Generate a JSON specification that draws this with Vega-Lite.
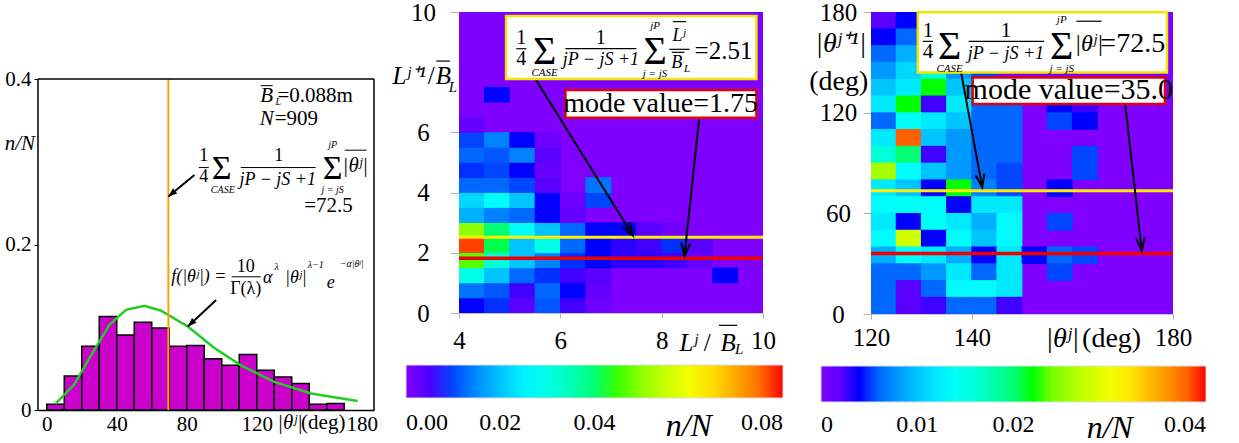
{
  "$schema": "https://vega.github.io/schema/vega-lite/v6.json",
  "padding": {"left": 4, "top": 0, "right": 0, "bottom": 0},
  "background": "white",
  "config": {
    "font": "Liberation Serif",
    "view": {"stroke": null},
    "style": {"guide-label": {"font": "Liberation Serif", "fill": "black"}, "guide-title": {"font": "Liberation Serif"}},
    "axis": {"labelFont": "Liberation Serif", "titleFont": "Liberation Serif", "labelColor": "black", "grid": false, "labelFlush": false, "labelOverlap": false},
    "legend": {"labelFont": "Liberation Serif"},
    "text": {"font": "Liberation Serif", "color": "black", "baseline": "middle", "align": "center"}
  },
  "bounds": "flush",
  "spacing": 0,
  "resolve": {"scale": {"color": "independent"}},
  "hconcat": [
    {
      "width": 336, "height": 398,
      "encoding": {
        "x": {"field": "x", "type": "quantitative", "scale": {"domain": [-5, 187], "nice": false, "zero": false},
              "axis": {"values": [0, 40, 80, 120, 180], "title": null, "ticks": false, "labelPadding": 3, "labelFont": "Liberation Serif", "labelFontSize": 21, "domainColor": "black", "domainWidth": 1.5}},
        "y": {"field": "y", "type": "quantitative", "scale": {"domain": [0, 0.481], "nice": false, "zero": false},
              "axis": {"values": [0, 0.2, 0.4], "format": "~g", "title": null, "tickSize": 4, "tickColor": "black", "labelPadding": 3, "labelFont": "Liberation Serif", "labelFontSize": 21, "domain": false}}
      },
      "layer": [
        {
          "data": {"values": [
            {"x": 0, "x2": 10, "y": 0.007}, {"x": 10, "x2": 20, "y": 0.041}, {"x": 20, "x2": 30, "y": 0.077},
            {"x": 30, "x2": 40, "y": 0.113}, {"x": 40, "x2": 50, "y": 0.0905}, {"x": 50, "x2": 60, "y": 0.106},
            {"x": 60, "x2": 70, "y": 0.099}, {"x": 70, "x2": 80, "y": 0.077}, {"x": 80, "x2": 90, "y": 0.078},
            {"x": 90, "x2": 100, "y": 0.062}, {"x": 100, "x2": 110, "y": 0.054}, {"x": 110, "x2": 120, "y": 0.067},
            {"x": 120, "x2": 130, "y": 0.048}, {"x": 130, "x2": 140, "y": 0.04}, {"x": 140, "x2": 150, "y": 0.032},
            {"x": 150, "x2": 160, "y": 0.007}, {"x": 160, "x2": 170, "y": 0.008}
          ]},
          "mark": {"type": "rect", "fill": "#cc00cc", "stroke": "black", "strokeWidth": 1.5},
          "encoding": {"x2": {"field": "x2"}, "y2": {"datum": 0}}
        },
        {
          "data": {"values": [
            {"x": 4.8, "y": 0.007}, {"x": 15.8, "y": 0.031}, {"x": 25.3, "y": 0.066}, {"x": 35.8, "y": 0.103},
            {"x": 45.3, "y": 0.121}, {"x": 55.8, "y": 0.126}, {"x": 65.3, "y": 0.12}, {"x": 80.6, "y": 0.101},
            {"x": 95.8, "y": 0.075}, {"x": 111, "y": 0.054}, {"x": 130, "y": 0.034}, {"x": 151, "y": 0.02},
            {"x": 177.7, "y": 0.011}
          ]},
          "mark": {"type": "line", "color": "#22cc22", "strokeWidth": 2.5},
          "encoding": {}
        },
        {
          "data": {"values": [{"x": 69.5, "y": 0, "y2": 0.4}]},
          "mark": {"type": "rule", "color": "#ffa200", "strokeWidth": 2},
          "encoding": {"y2": {"field": "y2"}}
        },
        {
          "data": {"values": [
            {"x": -5, "y": 0, "x2": -5, "y2": 0.4},
            {"x": 187, "y": 0, "x2": 187, "y2": 0.4},
            {"x": -5, "y": 0.4, "x2": 187, "y2": 0.4}
          ]},
          "mark": {"type": "rule", "color": "black", "strokeWidth": 1.5},
          "encoding": {"x2": {"field": "x2"}, "y2": {"field": "y2"}}
        },
        {
          "data": {"values": [
            {"x": 84.4, "y": 0.284, "x2": 69.5, "y2": 0.258},
            {"x": 96.8, "y": 0.133, "x2": 80.6, "y2": 0.101}
          ]},
          "mark": {"type": "rule", "color": "black", "strokeWidth": 2},
          "encoding": {"x2": {"field": "x2"}, "y2": {"field": "y2"}}
        },
        {
          "data": {"values": [{"x": 69.5, "y": 0.258}]},
          "mark": {"type": "point", "shape": "M0,0L-0.6,-1.6L0.6,-1.6Z", "filled": true, "color": "black", "opacity": 1, "size": 120, "angle": 50},
          "encoding": {}
        },
        {
          "data": {"values": [{"x": 80.6, "y": 0.101}]},
          "mark": {"type": "point", "shape": "M0,0L-0.6,-1.6L0.6,-1.6Z", "filled": true, "color": "black", "opacity": 1, "size": 120, "angle": 47},
          "encoding": {}
        },
        {
          "data": {"values": [
            {"x": 86.9, "x2": 92.6, "y": 0.293}, {"x": 110.9, "x2": 153.7, "y": 0.293},
            {"x": 105.7, "x2": 122.3, "y": 0.161}, {"x": 170.3, "x2": 182.8, "y": 0.314},
            {"x": 122.3, "x2": 129.1, "y": 0.392}
          ]},
          "mark": {"type": "rule", "color": "black", "strokeWidth": 1},
          "encoding": {"x2": {"field": "x2"}}
        },
        {
          "data": {"values": [
            {"x": 89.7, "y": 0.307, "t": "1"}, {"x": 89.7, "y": 0.281, "t": "4"}, {"x": 132.6, "y": 0.307, "t": "1"},
            {"x": 113.7, "y": 0.173, "t": "10"}, {"x": 113.7, "y": 0.146, "t": "Γ(λ)"}
          ]},
          "mark": {"type": "text", "font": "Liberation Serif", "fontSize": 18},
          "encoding": {"text": {"field": "t"}}
        },
        {
          "data": {"values": [
            {"x": 161, "y": 0.246, "t": "=72.5"}, {"x": 153.4, "y": 0.38, "t": "=0.088m"}, {"x": 142.6, "y": 0.352, "t": "=909"},
            {"x": 158, "y": -0.0162, "t": "(deg)"}
          ]},
          "mark": {"type": "text", "font": "Liberation Serif", "fontSize": 21},
          "encoding": {"text": {"field": "t"}}
        },
        {
          "data": {"values": [
            {"x": 125.7, "y": 0.38, "t": "B"}, {"x": 125.7, "y": 0.352, "t": "N"},
            {"x": 139, "y": -0.0162, "t": "|θʲ|"}, {"x": -15.4, "y": 0.322, "t": "n/N"}, {"x": 176.3, "y": 0.295, "t": "|θʲ|"}
          ]},
          "mark": {"type": "text", "font": "Liberation Serif", "fontSize": 21, "fontStyle": "italic"},
          "encoding": {"text": {"field": "t"}}
        },
        {
          "data": {"values": [
            {"x": 132, "y": 0.278, "t": "jP − jS +1"},
            {"x": 86.9, "y": 0.161, "t": "f(|θʲ|) ="}, {"x": 126.3, "y": 0.159, "t": "α"},
            {"x": 142.3, "y": 0.159, "t": "|θʲ|"}, {"x": 162.3, "y": 0.153, "t": "e"}
          ]},
          "mark": {"type": "text", "font": "Liberation Serif", "fontSize": 18, "fontStyle": "italic"},
          "encoding": {"text": {"field": "t"}}
        },
        {
          "data": {"values": [
            {"x": 100.6, "y": 0.266, "t": "CASE"}, {"x": 163.4, "y": 0.32, "t": "jP"}, {"x": 163.4, "y": 0.266, "t": "j = jS"},
            {"x": 131.4, "y": 0.173, "t": "λ"}, {"x": 153.7, "y": 0.175, "t": "λ−1"}, {"x": 174.3, "y": 0.176, "t": "−α|θʲ|"},
            {"x": 132.3, "y": 0.372, "t": "L"}
          ]},
          "mark": {"type": "text", "font": "Liberation Serif", "fontSize": 10, "fontStyle": "italic"},
          "encoding": {"text": {"field": "t"}}
        },
        {
          "data": {"values": [{"x": 100, "y": 0.291, "t": "Σ"}, {"x": 163.4, "y": 0.291, "t": "Σ"}]},
          "mark": {"type": "text", "font": "Liberation Serif", "fontSize": 34},
          "encoding": {"text": {"field": "t"}}
        }
      ]
    },
    {
      "width": 85, "height": 10,
      "data": {"values": [{"a": 1}]},
      "mark": {"type": "text", "text": " "}
    },
    {
      "width": 304, "height": 301,
      "view": {"fill": "#8000ff", "stroke": null},
      "encoding": {
        "x": {"field": "x", "type": "quantitative", "scale": {"domain": [4, 10], "nice": false, "zero": false},
              "axis": {"values": [4, 6, 8, 10], "title": null, "tickSize": 5, "tickColor": "#b0b0b0", "domainColor": "#c8c8c8", "labelPadding": 10, "labelFont": "Liberation Serif", "labelFontSize": 25}},
        "y": {"field": "y", "type": "quantitative", "scale": {"domain": [0, 10], "nice": false, "zero": false},
              "axis": {"values": [0, 2, 4, 6, 10], "title": null, "tickSize": 9, "tickColor": "#b0b0b0", "domain": false, "labelAlign": "center", "labelPadding": 27, "labelFont": "Liberation Serif", "labelFontSize": 25}}
      },
      "layer": [
        {
          "data": {"values": [
            {"x": 4.25, "y": 0.25, "v": 0.008}, {"x": 4.75, "y": 0.25, "v": 0.009}, {"x": 5.25, "y": 0.25, "v": 0.004}, {"x": 5.75, "y": 0.25, "v": 0.011}, {"x": 6.25, "y": 0.25, "v": 0.006}, {"x": 6.75, "y": 0.25, "v": 0.002},
            {"x": 4.25, "y": 0.75, "v": 0.013}, {"x": 4.75, "y": 0.75, "v": 0.011}, {"x": 5.25, "y": 0.75, "v": 0.006}, {"x": 5.75, "y": 0.75, "v": 0.012}, {"x": 6.25, "y": 0.75, "v": 0.008}, {"x": 6.75, "y": 0.75, "v": 0.003},
            {"x": 4.25, "y": 1.25, "v": 0.03}, {"x": 4.75, "y": 1.25, "v": 0.02}, {"x": 5.25, "y": 1.25, "v": 0.012}, {"x": 5.75, "y": 1.25, "v": 0.009}, {"x": 6.25, "y": 1.25, "v": 0.006}, {"x": 6.75, "y": 1.25, "v": 0.004}, {"x": 9.25, "y": 1.25, "v": 0.008},
            {"x": 4.25, "y": 1.75, "v": 0.046}, {"x": 4.75, "y": 1.75, "v": 0.032}, {"x": 5.25, "y": 1.75, "v": 0.02}, {"x": 5.75, "y": 1.75, "v": 0.014}, {"x": 6.25, "y": 1.75, "v": 0.009}, {"x": 6.75, "y": 1.75, "v": 0.008}, {"x": 7.25, "y": 1.75, "v": 0.007}, {"x": 7.75, "y": 1.75, "v": 0.007}, {"x": 8.25, "y": 1.75, "v": 0.006}, {"x": 8.75, "y": 1.75, "v": 0.003},
            {"x": 4.25, "y": 2.25, "v": 0.078}, {"x": 4.75, "y": 2.25, "v": 0.042}, {"x": 5.25, "y": 2.25, "v": 0.02}, {"x": 5.75, "y": 2.25, "v": 0.03}, {"x": 6.25, "y": 2.25, "v": 0.012}, {"x": 6.75, "y": 2.25, "v": 0.008}, {"x": 7.25, "y": 2.25, "v": 0.007}, {"x": 7.75, "y": 2.25, "v": 0.006}, {"x": 8.25, "y": 2.25, "v": 0.009}, {"x": 8.75, "y": 2.25, "v": 0.004},
            {"x": 4.25, "y": 2.75, "v": 0.05}, {"x": 4.75, "y": 2.75, "v": 0.04}, {"x": 5.25, "y": 2.75, "v": 0.028}, {"x": 5.75, "y": 2.75, "v": 0.02}, {"x": 6.25, "y": 2.75, "v": 0.012}, {"x": 6.75, "y": 2.75, "v": 0.008}, {"x": 7.25, "y": 2.75, "v": 0.008}, {"x": 7.75, "y": 2.75, "v": 0.004}, {"x": 8.25, "y": 2.75, "v": 0.002},
            {"x": 4.25, "y": 3.25, "v": 0.018}, {"x": 4.75, "y": 3.25, "v": 0.014}, {"x": 5.25, "y": 3.25, "v": 0.012}, {"x": 5.75, "y": 3.25, "v": 0.008}, {"x": 6.25, "y": 3.25, "v": 0.003},
            {"x": 4.25, "y": 3.75, "v": 0.022}, {"x": 4.75, "y": 3.75, "v": 0.026}, {"x": 5.25, "y": 3.75, "v": 0.02}, {"x": 5.75, "y": 3.75, "v": 0.008}, {"x": 6.25, "y": 3.75, "v": 0.002}, {"x": 6.75, "y": 3.75, "v": 0.01},
            {"x": 4.25, "y": 4.25, "v": 0.012}, {"x": 4.75, "y": 4.25, "v": 0.012}, {"x": 5.25, "y": 4.25, "v": 0.01}, {"x": 5.75, "y": 4.25, "v": 0.004}, {"x": 6.75, "y": 4.25, "v": 0.013},
            {"x": 4.25, "y": 4.75, "v": 0.009}, {"x": 4.75, "y": 4.75, "v": 0.01}, {"x": 5.25, "y": 4.75, "v": 0.008}, {"x": 5.75, "y": 4.75, "v": 0.003},
            {"x": 4.25, "y": 5.25, "v": 0.012}, {"x": 4.75, "y": 5.25, "v": 0.011}, {"x": 5.25, "y": 5.25, "v": 0.014}, {"x": 5.75, "y": 5.25, "v": 0.004},
            {"x": 4.25, "y": 5.75, "v": 0.01}, {"x": 4.75, "y": 5.75, "v": 0.014}, {"x": 5.25, "y": 5.75, "v": 0.008}, {"x": 5.75, "y": 5.75, "v": 0.002},
            {"x": 4.25, "y": 6.25, "v": 0.003}, {"x": 4.75, "y": 7.25, "v": 0.008}
          ]},
          "mark": {"type": "rect", "width": 26, "height": 15.6, "clip": true},
          "encoding": {
            "color": {"field": "v", "type": "quantitative",
              "scale": {"domain": [0, 0.008, 0.0264, 0.044, 0.0616, 0.08], "range": ["#8000ff", "#0000ff", "#00ffff", "#00ff00", "#ffff00", "#ff0000"], "clamp": true},
              "legend": {"orient": "none", "legendX": -53, "legendY": 353, "direction": "horizontal", "gradientLength": 377, "gradientThickness": 33,
                "title": null, "values": [0, 0.02, 0.04, 0.06, 0.08],
                "labelExpr": "datum.value == 0.06 ? 'n/N' : format(datum.value, '.2f')",
                "labelFont": "Liberation Serif", "labelFontSize": 24, "labelColor": "black", "labelOffset": 13, "labelAlign": "center", "labelOverlap": false,
                "gradientStrokeColor": "#dddddd", "gradientStrokeWidth": 1,
                "encode": {"labels": {"update": {"font": {"value": "Liberation Serif"}, "fontStyle": {"signal": "datum.value == 0.06 ? 'italic' : 'normal'"}, "fontSize": {"signal": "datum.value == 0.06 ? 32 : 24"}}}}}
            }
          }
        },
        {
          "data": {"values": [{"x": 4, "x2": 10, "y": 2.52}]},
          "mark": {"type": "rule", "color": "#ffee00", "strokeWidth": 3},
          "encoding": {"x2": {"field": "x2"}}
        },
        {
          "data": {"values": [{"x": 4, "x2": 10, "y": 1.82}]},
          "mark": {"type": "rule", "color": "#ee0000", "strokeWidth": 3.5},
          "encoding": {"x2": {"field": "x2"}}
        },
        {
          "data": {"values": [
            {"x": 5.52, "y": 7.74, "x2": 7.43, "y2": 2.58},
            {"x": 8.74, "y": 6.46, "x2": 8.45, "y2": 1.89}
          ]},
          "mark": {"type": "rule", "color": "black", "strokeWidth": 2},
          "encoding": {"x2": {"field": "x2"}, "y2": {"field": "y2"}}
        },
        {
          "data": {"values": [{"x": 7.43, "y": 2.58}]},
          "mark": {"type": "point", "shape": "M-0.45,-1.3L0,0L0.45,-1.3", "filled": false, "stroke": "black", "strokeWidth": 2, "opacity": 1, "size": 400, "angle": -31.9},
          "encoding": {}
        },
        {
          "data": {"values": [{"x": 8.45, "y": 1.89}]},
          "mark": {"type": "point", "shape": "M-0.45,-1.3L0,0L0.45,-1.3", "filled": false, "stroke": "black", "strokeWidth": 2, "opacity": 1, "size": 400, "angle": 6},
          "encoding": {}
        },
        {
          "data": {"values": [{"x": 4.93, "x2": 9.87, "y": 9.87, "y2": 7.77}]},
          "mark": {"type": "rect", "fill": "white", "stroke": "#f2e600", "strokeWidth": 2.5},
          "encoding": {"x2": {"field": "x2"}, "y2": {"field": "y2"}}
        },
        {
          "data": {"values": [{"x": 6.1, "x2": 9.87, "y": 7.41, "y2": 6.49}]},
          "mark": {"type": "rect", "fill": "white", "stroke": "#e00010", "strokeWidth": 2.5},
          "encoding": {"x2": {"field": "x2"}, "y2": {"field": "y2"}}
        },
        {
          "data": {"values": [
            {"x": 5.13, "x2": 5.33, "y": 8.78}, {"x": 6.1, "x2": 7.5, "y": 8.78}, {"x": 8.15, "x2": 8.55, "y": 8.76},
            {"x": 8.22, "x2": 8.48, "y": 9.68}, {"x": 8.2, "x2": 8.45, "y": 8.66},
            {"x": 3.55, "x2": 3.82, "y": 8.37}, {"x": 9.13, "x2": 9.49, "y": -0.41}
          ]},
          "mark": {"type": "rule", "color": "black", "strokeWidth": 1.2},
          "encoding": {"x2": {"field": "x2"}}
        },
        {
          "data": {"values": [{"x": 5.23, "y": 9.15, "t": "1"}, {"x": 5.23, "y": 8.43, "t": "4"}, {"x": 6.8, "y": 9.15, "t": "1"}]},
          "mark": {"type": "text", "font": "Liberation Serif", "fontSize": 20},
          "encoding": {"text": {"field": "t"}}
        },
        {
          "data": {"values": [{"x": 9.22, "y": 8.7, "t": "=2.51"}, {"x": 3.45, "y": 7.87, "t": "/"}, {"x": 8.9, "y": -0.99, "t": "/"}]},
          "mark": {"type": "text", "font": "Liberation Serif", "fontSize": 25},
          "encoding": {"text": {"field": "t"}}
        },
        {
          "data": {"values": [{"x": 7.98, "y": 6.94, "t": "mode value=1.75"}]},
          "mark": {"type": "text", "font": "Liberation Serif", "fontSize": 28},
          "encoding": {"text": {"field": "t"}}
        },
        {
          "data": {"values": [{"x": 6.8, "y": 8.4, "t": "jP − jS +1"}, {"x": 8.34, "y": 9.2, "t": "Lʲ"}, {"x": 8.3, "y": 8.32, "t": "B"}]},
          "mark": {"type": "text", "font": "Liberation Serif", "fontSize": 18, "fontStyle": "italic"},
          "encoding": {"text": {"field": "t"}}
        },
        {
          "data": {"values": [{"x": 3.02, "y": 7.87, "t": "Lʲ⁺¹"}, {"x": 3.69, "y": 7.87, "t": "B"}, {"x": 8.53, "y": -0.99, "t": "Lʲ"}, {"x": 9.31, "y": -0.99, "t": "B"}]},
          "mark": {"type": "text", "font": "Liberation Serif", "fontSize": 25, "fontStyle": "italic"},
          "encoding": {"text": {"field": "t"}}
        },
        {
          "data": {"values": [{"x": 3.88, "y": 7.51, "t": "L"}, {"x": 9.53, "y": -1.21, "t": "L"}]},
          "mark": {"type": "text", "font": "Liberation Serif", "fontSize": 15, "fontStyle": "italic"},
          "encoding": {"text": {"field": "t"}}
        },
        {
          "data": {"values": [{"x": 5.69, "y": 7.96, "t": "CASE"}, {"x": 7.87, "y": 9.52, "t": "jP"}, {"x": 7.87, "y": 7.94, "t": "j = jS"}, {"x": 8.5, "y": 8.12, "t": "L"}]},
          "mark": {"type": "text", "font": "Liberation Serif", "fontSize": 11, "fontStyle": "italic"},
          "encoding": {"text": {"field": "t"}}
        },
        {
          "data": {"values": [{"x": 5.69, "y": 8.68, "t": "Σ"}, {"x": 7.87, "y": 8.68, "t": "Σ"}]},
          "mark": {"type": "text", "font": "Liberation Serif", "fontSize": 40},
          "encoding": {"text": {"field": "t"}}
        }
      ]
    },
    {
      "width": 108, "height": 10,
      "data": {"values": [{"a": 1}]},
      "mark": {"type": "text", "text": " "}
    },
    {
      "width": 302, "height": 302,
      "view": {"fill": "#8000ff", "stroke": null},
      "encoding": {
        "x": {"field": "x", "type": "quantitative", "scale": {"domain": [120, 180], "nice": false, "zero": false},
              "axis": {"values": [120, 140, 180], "title": null, "tickSize": 5, "tickColor": "#b0b0b0", "domainColor": "#c8c8c8", "labelPadding": 6, "labelFont": "Liberation Serif", "labelFontSize": 25}},
        "y": {"field": "y", "type": "quantitative", "scale": {"domain": [0, 180], "nice": false, "zero": false},
              "axis": {"values": [0, 60, 120, 180], "title": null, "tickSize": 8, "tickColor": "#b0b0b0", "domain": false, "labelAlign": "center", "labelPadding": 25, "labelFont": "Liberation Serif", "labelFontSize": 25}}
      },
      "layer": [
        {
          "data": {"values": [
            {"x": 122.5, "y": 175, "v": 0.002}, {"x": 127.5, "y": 175, "v": 0.004},
            {"x": 122.5, "y": 165, "v": 0.004}, {"x": 127.5, "y": 165, "v": 0.006}, {"x": 132.5, "y": 165, "v": 0.004},
            {"x": 122.5, "y": 155, "v": 0.006}, {"x": 127.5, "y": 155, "v": 0.009}, {"x": 132.5, "y": 155, "v": 0.012}, {"x": 137.5, "y": 155, "v": 0.006},
            {"x": 122.5, "y": 145, "v": 0.008}, {"x": 127.5, "y": 145, "v": 0.011}, {"x": 132.5, "y": 145, "v": 0.016}, {"x": 137.5, "y": 145, "v": 0.008}, {"x": 142.5, "y": 145, "v": 0.005},
            {"x": 122.5, "y": 135, "v": 0.01}, {"x": 127.5, "y": 135, "v": 0.012}, {"x": 132.5, "y": 135, "v": 0.022}, {"x": 137.5, "y": 135, "v": 0.01}, {"x": 142.5, "y": 135, "v": 0.006}, {"x": 147.5, "y": 135, "v": 0.005},
            {"x": 122.5, "y": 125, "v": 0.012}, {"x": 127.5, "y": 125, "v": 0.022}, {"x": 132.5, "y": 125, "v": 0.003}, {"x": 137.5, "y": 125, "v": 0.012}, {"x": 142.5, "y": 125, "v": 0.006}, {"x": 147.5, "y": 125, "v": 0.006}, {"x": 157.5, "y": 125, "v": 0.004}, {"x": 162.5, "y": 125, "v": 0.003},
            {"x": 122.5, "y": 115, "v": 0.006}, {"x": 127.5, "y": 115, "v": 0.014}, {"x": 132.5, "y": 115, "v": 0.012}, {"x": 137.5, "y": 115, "v": 0.01}, {"x": 142.5, "y": 115, "v": 0.006}, {"x": 147.5, "y": 115, "v": 0.006}, {"x": 157.5, "y": 115, "v": 0.005}, {"x": 162.5, "y": 115, "v": 0.004},
            {"x": 122.5, "y": 105, "v": 0.012}, {"x": 127.5, "y": 105, "v": 0.038}, {"x": 132.5, "y": 105, "v": 0.01}, {"x": 137.5, "y": 105, "v": 0.008}, {"x": 142.5, "y": 105, "v": 0.006}, {"x": 147.5, "y": 105, "v": 0.006},
            {"x": 122.5, "y": 95, "v": 0.016}, {"x": 127.5, "y": 95, "v": 0.02}, {"x": 132.5, "y": 95, "v": 0.003}, {"x": 137.5, "y": 95, "v": 0.008}, {"x": 142.5, "y": 95, "v": 0.006}, {"x": 147.5, "y": 95, "v": 0.006}, {"x": 162.5, "y": 95, "v": 0.005},
            {"x": 122.5, "y": 85, "v": 0.026}, {"x": 127.5, "y": 85, "v": 0.013}, {"x": 132.5, "y": 85, "v": 0.01}, {"x": 137.5, "y": 85, "v": 0.008}, {"x": 142.5, "y": 85, "v": 0.006}, {"x": 147.5, "y": 85, "v": 0.005}, {"x": 162.5, "y": 85, "v": 0.005},
            {"x": 122.5, "y": 75, "v": 0.012}, {"x": 127.5, "y": 75, "v": 0.01}, {"x": 132.5, "y": 75, "v": 0.004}, {"x": 137.5, "y": 75, "v": 0.022}, {"x": 142.5, "y": 75, "v": 0.007}, {"x": 147.5, "y": 75, "v": 0.005}, {"x": 157.5, "y": 75, "v": 0.004},
            {"x": 122.5, "y": 65, "v": 0.013}, {"x": 127.5, "y": 65, "v": 0.014}, {"x": 132.5, "y": 65, "v": 0.013}, {"x": 137.5, "y": 65, "v": 0.004}, {"x": 142.5, "y": 65, "v": 0.012}, {"x": 147.5, "y": 65, "v": 0.012},
            {"x": 122.5, "y": 55, "v": 0.012}, {"x": 127.5, "y": 55, "v": 0.004}, {"x": 132.5, "y": 55, "v": 0.014}, {"x": 137.5, "y": 55, "v": 0.012}, {"x": 142.5, "y": 55, "v": 0.009}, {"x": 147.5, "y": 55, "v": 0.013}, {"x": 157.5, "y": 55, "v": 0.005},
            {"x": 122.5, "y": 45, "v": 0.013}, {"x": 127.5, "y": 45, "v": 0.028}, {"x": 132.5, "y": 45, "v": 0.004}, {"x": 137.5, "y": 45, "v": 0.013}, {"x": 142.5, "y": 45, "v": 0.01}, {"x": 147.5, "y": 45, "v": 0.013},
            {"x": 122.5, "y": 35, "v": 0.009}, {"x": 127.5, "y": 35, "v": 0.013}, {"x": 132.5, "y": 35, "v": 0.012}, {"x": 137.5, "y": 35, "v": 0.009}, {"x": 142.5, "y": 35, "v": 0.004}, {"x": 147.5, "y": 35, "v": 0.012}, {"x": 152.5, "y": 35, "v": 0.004}, {"x": 157.5, "y": 35, "v": 0.006}, {"x": 162.5, "y": 35, "v": 0.005},
            {"x": 122.5, "y": 25, "v": 0.006}, {"x": 127.5, "y": 25, "v": 0.006}, {"x": 132.5, "y": 25, "v": 0.008}, {"x": 137.5, "y": 25, "v": 0.012}, {"x": 142.5, "y": 25, "v": 0.006}, {"x": 147.5, "y": 25, "v": 0.012}, {"x": 157.5, "y": 25, "v": 0.005},
            {"x": 122.5, "y": 15, "v": 0.006}, {"x": 127.5, "y": 15, "v": 0.002}, {"x": 132.5, "y": 15, "v": 0.006}, {"x": 137.5, "y": 15, "v": 0.013}, {"x": 142.5, "y": 15, "v": 0.013}, {"x": 147.5, "y": 15, "v": 0.012},
            {"x": 122.5, "y": 5, "v": 0.006}, {"x": 127.5, "y": 5, "v": 0.002}, {"x": 132.5, "y": 5, "v": 0.003}, {"x": 137.5, "y": 5, "v": 0.006}, {"x": 142.5, "y": 5, "v": 0.006}, {"x": 147.5, "y": 5, "v": 0.003}
          ]},
          "mark": {"type": "rect", "width": 26, "height": 17.5, "clip": true},
          "encoding": {
            "color": {"field": "v", "type": "quantitative",
              "scale": {"domain": [0, 0.004, 0.0132, 0.022, 0.0308, 0.04], "range": ["#8000ff", "#0000ff", "#00ffff", "#00ff00", "#ffff00", "#ff0000"], "clamp": true},
              "legend": {"orient": "none", "legendX": -50, "legendY": 354, "direction": "horizontal", "gradientLength": 385, "gradientThickness": 36,
                "title": null, "values": [0, 0.01, 0.02, 0.03, 0.04],
                "labelExpr": "datum.value == 0.03 ? 'n/N' : datum.value == 0 ? '0' : format(datum.value, '.2f')",
                "labelFont": "Liberation Serif", "labelFontSize": 24, "labelColor": "black", "labelOffset": 11, "labelAlign": "center", "labelOverlap": false,
                "gradientStrokeColor": "#dddddd", "gradientStrokeWidth": 1,
                "encode": {"labels": {"update": {"font": {"value": "Liberation Serif"}, "fontStyle": {"signal": "datum.value == 0.03 ? 'italic' : 'normal'"}, "fontSize": {"signal": "datum.value == 0.03 ? 32 : 24"}}}}}
            }
          }
        },
        {
          "data": {"values": [{"x": 120, "x2": 180, "y": 73.5}]},
          "mark": {"type": "rule", "color": "#ffee00", "strokeWidth": 3},
          "encoding": {"x2": {"field": "x2"}}
        },
        {
          "data": {"values": [{"x": 120, "x2": 180, "y": 36}]},
          "mark": {"type": "rule", "color": "#ee0000", "strokeWidth": 3.5},
          "encoding": {"x2": {"field": "x2"}}
        },
        {
          "data": {"values": [
            {"x": 137.9, "y": 144, "x2": 142.1, "y2": 75.5},
            {"x": 170.5, "y": 125.1, "x2": 173.8, "y2": 37.8}
          ]},
          "mark": {"type": "rule", "color": "black", "strokeWidth": 2},
          "encoding": {"x2": {"field": "x2"}, "y2": {"field": "y2"}}
        },
        {
          "data": {"values": [{"x": 142.1, "y": 75.5}]},
          "mark": {"type": "point", "shape": "M-0.45,-1.3L0,0L0.45,-1.3", "filled": false, "stroke": "black", "strokeWidth": 2, "opacity": 1, "size": 400, "angle": -10.3},
          "encoding": {}
        },
        {
          "data": {"values": [{"x": 173.8, "y": 37.8}]},
          "mark": {"type": "point", "shape": "M-0.45,-1.3L0,0L0.45,-1.3", "filled": false, "stroke": "black", "strokeWidth": 2, "opacity": 1, "size": 400, "angle": -6.5},
          "encoding": {}
        },
        {
          "data": {"values": [{"x": 129.3, "x2": 178.8, "y": 179.8, "y2": 144}]},
          "mark": {"type": "rect", "fill": "white", "stroke": "#f2e600", "strokeWidth": 2.5},
          "encoding": {"x2": {"field": "x2"}, "y2": {"field": "y2"}}
        },
        {
          "data": {"values": [{"x": 140.2, "x2": 178.4, "y": 141, "y2": 125.1}]},
          "mark": {"type": "rect", "fill": "white", "stroke": "#e00010", "strokeWidth": 2.5},
          "encoding": {"x2": {"field": "x2"}, "y2": {"field": "y2"}}
        },
        {
          "data": {"values": [{"x": 130.3, "x2": 132.3, "y": 162.5}, {"x": 139.4, "x2": 154.4, "y": 162.5}, {"x": 160.8, "x2": 165.8, "y": 174.5}]},
          "mark": {"type": "rule", "color": "black", "strokeWidth": 1.2},
          "encoding": {"x2": {"field": "x2"}}
        },
        {
          "data": {"values": [{"x": 131.3, "y": 168.9, "t": "1"}, {"x": 131.3, "y": 155.9, "t": "4"}, {"x": 146.8, "y": 168.9, "t": "1"}]},
          "mark": {"type": "text", "font": "Liberation Serif", "fontSize": 21},
          "encoding": {"text": {"field": "t"}}
        },
        {
          "data": {"values": [{"x": 172, "y": 160.7, "t": "=72.5"}, {"x": 113.6, "y": 138, "t": "(deg)"}, {"x": 167.8, "y": -15.1, "t": "(deg)"}]},
          "mark": {"type": "text", "font": "Liberation Serif", "fontSize": 28},
          "encoding": {"text": {"field": "t"}}
        },
        {
          "data": {"values": [{"x": 159.3, "y": 133.3, "t": "mode value=35.0"}]},
          "mark": {"type": "text", "font": "Liberation Serif", "fontSize": 30},
          "encoding": {"text": {"field": "t"}}
        },
        {
          "data": {"values": [{"x": 146.8, "y": 155, "t": "jP − jS +1"}]},
          "mark": {"type": "text", "font": "Liberation Serif", "fontSize": 18, "fontStyle": "italic"},
          "encoding": {"text": {"field": "t"}}
        },
        {
          "data": {"values": [{"x": 163.3, "y": 161, "t": "|θʲ|"}]},
          "mark": {"type": "text", "font": "Liberation Serif", "fontSize": 24, "fontStyle": "italic"},
          "encoding": {"text": {"field": "t"}}
        },
        {
          "data": {"values": [{"x": 114, "y": 161, "t": "|θʲ⁺¹|"}, {"x": 158, "y": -15.1, "t": "|θʲ|"}]},
          "mark": {"type": "text", "font": "Liberation Serif", "fontSize": 28, "fontStyle": "italic"},
          "encoding": {"text": {"field": "t"}}
        },
        {
          "data": {"values": [{"x": 135.6, "y": 146, "t": "CASE"}, {"x": 157.9, "y": 175.5, "t": "jP"}, {"x": 157.9, "y": 146, "t": "j = jS"}]},
          "mark": {"type": "text", "font": "Liberation Serif", "fontSize": 11, "fontStyle": "italic"},
          "encoding": {"text": {"field": "t"}}
        },
        {
          "data": {"values": [{"x": 135.6, "y": 159, "t": "Σ"}, {"x": 157.9, "y": 159, "t": "Σ"}]},
          "mark": {"type": "text", "font": "Liberation Serif", "fontSize": 40},
          "encoding": {"text": {"field": "t"}}
        }
      ]
    }
  ]
}
